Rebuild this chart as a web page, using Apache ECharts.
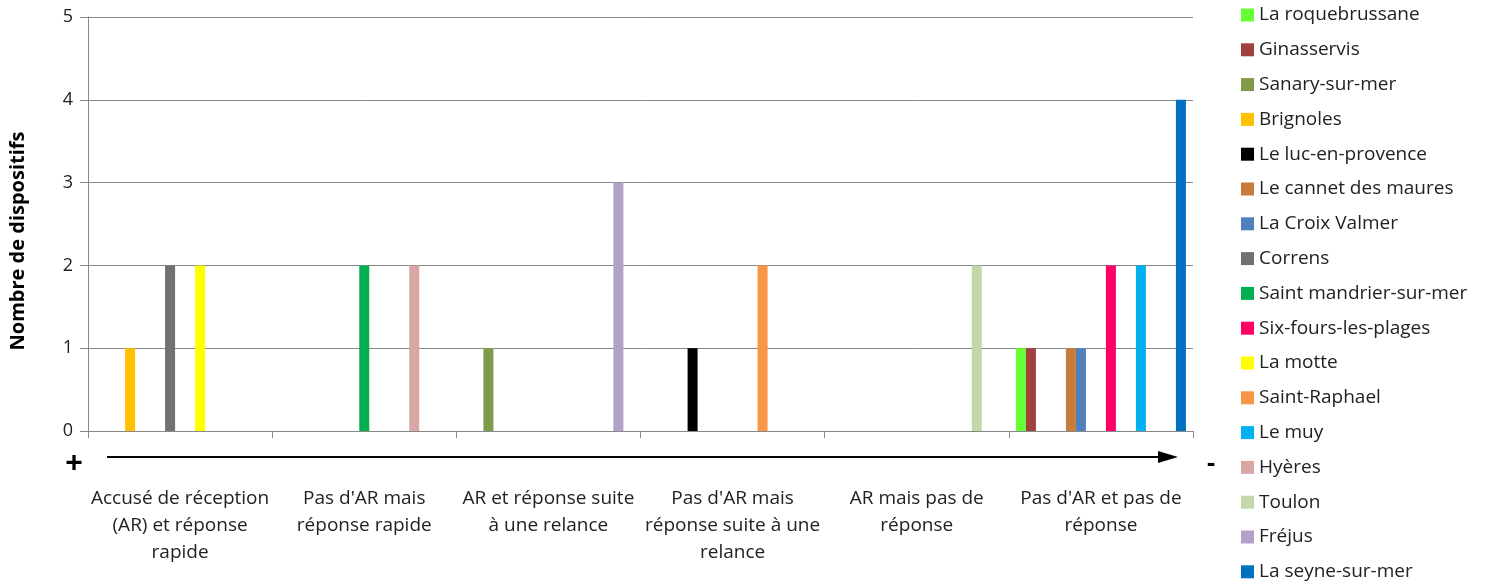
<!DOCTYPE html>
<html><head><meta charset="utf-8">
<script src="https://cdn.jsdelivr.net/npm/echarts@6/dist/echarts.min.js"></script>
<style>html,body{margin:0;padding:0;background:#fff}#c{width:1493px;height:585px}</style>
</head><body><div id="c"></div>
<script>
const categories = [
  "Accusé de réception\n(AR) et réponse\nrapide",
  "Pas d'AR mais\nréponse rapide",
  "AR et réponse suite\nà une relance",
  "Pas d'AR mais\nréponse suite à une\nrelance",
  "AR mais pas de\nréponse",
  "Pas d'AR et pas de\nréponse"
];
const seriesNames = [
  "La roquebrussane","Ginasservis","Sanary-sur-mer","Brignoles","Le luc-en-provence",
  "Le cannet des maures","La Croix Valmer","Correns","Saint mandrier-sur-mer",
  "Six-fours-les-plages","La motte","Saint-Raphael","Le muy","Hyères","Toulon","Fréjus","La seyne-sur-mer"
];
const seriesColors = [
  "#66FF33","#A0403F","#7F9A48","#FFC000","#000000","#C87B3A","#4F81BD","#717171","#00B050",
  "#FF0066","#FFFF00","#F79646","#00B0F0","#D9A6A6","#C4D7A8","#B3A2C7","#0070C0"
];
const laRoquebrussane = [null,null,null,null,null,1];
const ginasservis = [null,null,null,null,null,1];
const sanarySurMer = [null,null,1,null,null,null];
const brignoles = [1,null,null,null,null,null];
const leLucEnProvence = [null,null,null,1,null,null];
const leCannetDesMaures = [null,null,null,null,null,1];
const laCroixValmer = [null,null,null,null,null,1];
const correns = [2,null,null,null,null,null];
const saintMandrier = [null,2,null,null,null,null];
const sixFours = [null,null,null,null,null,2];
const laMotte = [2,null,null,null,null,null];
const saintRaphael = [null,null,null,2,null,null];
const leMuy = [null,null,null,null,null,2];
const hyeres = [null,2,null,null,null,null];
const toulon = [null,null,null,null,2,null];
const frejus = [null,null,3,null,null,null];
const laSeyneSurMer = [null,null,null,null,null,4];
const seriesValues = [laRoquebrussane,ginasservis,sanarySurMer,brignoles,leLucEnProvence,leCannetDesMaures,
  laCroixValmer,correns,saintMandrier,sixFours,laMotte,saintRaphael,leMuy,hyeres,toulon,frejus,laSeyneSurMer];
const yTicks = [0,1,2,3,4,5];
const yAxisTitle = 'Nombre de dispositifs';

const FONT = "'Open Sans', sans-serif";
const chart = echarts.init(document.getElementById('c'), null, {renderer:'canvas'});
chart.setOption({
  animation:false,
  backgroundColor:'#fff',
  grid:{left:88, right:300, top:17, bottom:154},
  legend:{
    orient:'vertical', left:1241, top:5.5, padding:0,
    itemWidth:13, itemHeight:13, itemGap:15.8,
    icon:'rect',
    textStyle:{fontFamily:FONT, fontSize:19, color:'#222'},
    data:seriesNames
  },
  xAxis:{
    type:'category', data:categories,
    axisLine:{lineStyle:{color:'#888', width:1}},
    axisTick:{show:true, length:7, lineStyle:{color:'#888'}},
    axisLabel:{margin:54, fontFamily:FONT, fontSize:19, color:'#222', lineHeight:27, interval:0}
  },
  yAxis:{
    type:'value', min:yTicks[0], max:yTicks[yTicks.length-1], interval:1,
    axisLine:{show:true, lineStyle:{color:'#888'}},
    axisTick:{show:true, length:8, lineStyle:{color:'#888'}},
    splitLine:{lineStyle:{color:'#888'}},
    axisLabel:{fontFamily:FONT, fontSize:18, color:'#222', margin:15}
  },
  graphic:[
    {type:'text', x:18, y:241, rotation:Math.PI/2, style:{text:yAxisTitle, font:"bold 20px 'Open Sans', sans-serif", fill:'#000', align:'center', verticalAlign:'middle'}},
    {type:'line', shape:{x1:107, y1:457, x2:1162, y2:457}, style:{stroke:'#000', lineWidth:2}},
    {type:'polygon', shape:{points:[[1158,451],[1178,457],[1158,463]]}, style:{fill:'#000'}},
    {type:'text', x:74, y:464, style:{text:'+', font:"bold 30px 'Liberation Sans', Arial", fill:'#000', align:'center', verticalAlign:'middle'}},
    {type:'text', x:1211, y:464, style:{text:'-', font:"bold 26px 'Liberation Sans', Arial", fill:'#000', align:'center', verticalAlign:'middle'}}
  ],
  series: seriesNames.map((n,i)=>({
    name:n, type:'bar', data:seriesValues[i], barWidth:10, barGap:'0%',
    itemStyle:{color:seriesColors[i]}
  }))
});
</script></body></html>
